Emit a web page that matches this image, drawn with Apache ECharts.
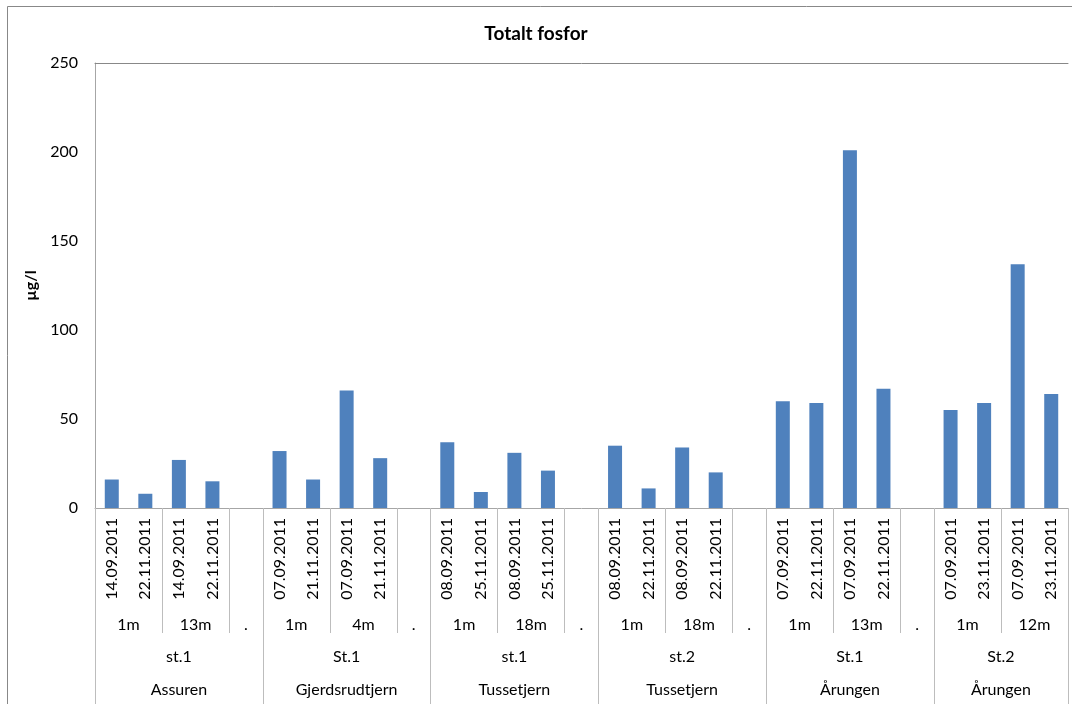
<!DOCTYPE html>
<html>
<head>
<meta charset="utf-8">
<script src="https://cdn.jsdelivr.net/npm/echarts@6/dist/echarts.min.js"></script>
<style>
  html, body { margin: 0; padding: 0; background: #fff; }
  #chart { width: 1072px; height: 704px; }
</style>
</head>
<body>
<div id="chart"></div>
<script>
// data
const lakes = ['Assuren', 'Gjerdsrudtjern', 'Tussetjern', 'Tussetjern', 'Årungen', 'Årungen'];
const stations = ['st.1', 'St.1', 'st.1', 'st.2', 'St.1', 'St.2'];
const depths = [
  ['1m', '13m', '.'],
  ['1m', '4m', '.'],
  ['1m', '18m', '.'],
  ['1m', '18m', '.'],
  ['1m', '13m', '.'],
  ['1m', '12m']
];
const dates = [
  '14.09.2011', '22.11.2011', '14.09.2011', '22.11.2011', '',
  '07.09.2011', '21.11.2011', '07.09.2011', '21.11.2011', '',
  '08.09.2011', '25.11.2011', '08.09.2011', '25.11.2011', '',
  '08.09.2011', '22.11.2011', '08.09.2011', '22.11.2011', '',
  '07.09.2011', '22.11.2011', '07.09.2011', '22.11.2011', '',
  '07.09.2011', '23.11.2011', '07.09.2011', '23.11.2011'
];
const values = [
  16, 8, 27, 15, null,
  32, 16, 66, 28, null,
  37, 9, 31, 21, null,
  35, 11, 34, 20, null,
  60, 59, 201, 67, null,
  55, 59, 137, 64
];
const yTicks = [0, 50, 100, 150, 200, 250];

// half-slot axes for the grouped labels (boundaryGap false => points at slot edges and centres)
const nHalf = dates.length * 2 + 1;
const depthRow = new Array(nHalf).fill('');
const stationRow = new Array(nHalf).fill('');
const lakeRow = new Array(nHalf).fill('');
const depthTicks = new Set();
const groupTicks = new Set();
let slot = 0;
depths.forEach((grp, g) => {
  const gStart = slot;
  groupTicks.add(gStart * 2);
  grp.forEach((d, k) => {
    const span = d === '.' ? 1 : 2;
    depthRow[slot * 2 + span] = d;
    slot += span;
    if (k < grp.length - 1) depthTicks.add(slot * 2);
  });
  stationRow[gStart + slot] = stations[g];
  lakeRow[gStart + slot] = lakes[g];
});
groupTicks.add(slot * 2);
const halfCats = depthRow.map((_, i) => 'h' + i);

const font = 'Lato';
const txt = { color: '#000', fontFamily: font, fontSize: 16 };

const chart = echarts.init(document.getElementById('chart'));
chart.setOption({
  animation: false,
  backgroundColor: '#fff',
  title: {
    text: 'Totalt fosfor',
    left: 'center',
    top: 19,
    textStyle: { color: '#000', fontFamily: font, fontSize: 19, fontWeight: 'bold' }
  },
  graphic: [{
    type: 'rect',
    shape: { x: 7.5, y: 6.5, width: 1080, height: 720 },
    style: { fill: 'none', stroke: '#888', lineWidth: 1 },
    silent: true
  }],
  grid: { left: 95, right: 4, top: 63, bottom: 196 },
  xAxis: [
    {
      type: 'category',
      data: dates,
      position: 'bottom',
      axisLine: { show: true, lineStyle: { color: '#a6a6a6' } },
      axisTick: { show: false },
      axisLabel: Object.assign({ rotate: 90, margin: 10, interval: 0 }, txt)
    },
    {
      type: 'category',
      data: halfCats,
      boundaryGap: false,
      position: 'bottom',
      axisLine: { show: false },
      axisTick: {
        show: true,
        length: 125,
        interval: (i) => depthTicks.has(i),
        lineStyle: { color: '#bdbdbd' }
      },
      axisLabel: Object.assign({
        margin: 109, interval: 0, formatter: (v, i) => depthRow[i]
      }, txt)
    },
    {
      type: 'category',
      data: halfCats,
      boundaryGap: false,
      position: 'bottom',
      axisLine: { show: false },
      axisTick: {
        show: true,
        length: 200,
        interval: (i) => groupTicks.has(i),
        lineStyle: { color: '#bdbdbd' }
      },
      axisLabel: Object.assign({
        margin: 141, interval: 0, formatter: (v, i) => stationRow[i]
      }, txt)
    },
    {
      type: 'category',
      data: halfCats,
      boundaryGap: false,
      position: 'bottom',
      axisLine: { show: false },
      axisTick: { show: false },
      axisLabel: Object.assign({
        margin: 174, interval: 0, formatter: (v, i) => lakeRow[i]
      }, txt)
    },
    {
      type: 'category',
      data: dates,
      position: 'top',
      axisLine: { show: true, lineStyle: { color: '#888' } },
      axisTick: { show: false },
      axisLabel: { show: false }
    }
  ],
  yAxis: {
    type: 'value',
    min: yTicks[0],
    max: yTicks[yTicks.length - 1],
    interval: 50,
    name: 'µg/l',
    nameLocation: 'middle',
    nameGap: 48,
    nameTextStyle: { color: '#000', fontFamily: font, fontSize: 16, fontWeight: 'bold' },
    axisLine: { show: true, lineStyle: { color: '#a6a6a6' } },
    axisTick: { show: false },
    splitLine: { show: false },
    axisLabel: Object.assign({ margin: 17 }, txt)
  },
  series: [{
    type: 'bar',
    xAxisIndex: 0,
    data: values,
    barWidth: 14,
    itemStyle: { color: '#4f81bd' }
  }]
});
</script>
</body>
</html>
